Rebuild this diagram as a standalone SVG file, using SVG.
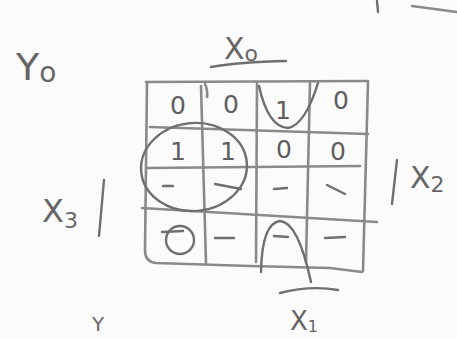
<svg xmlns="http://www.w3.org/2000/svg" width="457" height="339" viewBox="0 0 457 339">
<style>
.p{fill:none;stroke:#6f6f6f;stroke-width:2.4;stroke-linecap:round;stroke-linejoin:round}
.g{fill:none;stroke:#8a8a8a;stroke-width:2.6;stroke-linecap:round}
.t{font-family:"DejaVu Sans","Liberation Sans",sans-serif;fill:#666}
.c{font-family:"DejaVu Sans","Liberation Sans",sans-serif;fill:#5e5e5e;font-size:25px;text-anchor:middle}
</style>
<rect width="457" height="339" fill="#fbfbfb"/>
<!-- stray marks top right -->
<path class="p" d="M377 1 L378 12"/>
<path class="g" d="M412 6 L457 12"/>
<!-- grid -->
<g id="grid">
<path class="g" d="M146 82 L368 81"/>
<path class="g" d="M147 83 L145 250 Q145 262 156 263 L250 266 L330 268 L362 272"/>
<path class="g" d="M368 82 L363 271"/>
<path class="g" d="M150 127 L368 134"/>
<path class="g" d="M146 168 L360 166"/>
<path class="g" d="M142 208 L377 222"/>
<path class="g" d="M201 86 L206 263"/>
<path class="g" d="M257 83 L256 262"/>
<path class="g" d="M310 83 L306 262"/>
<path class="g" d="M205 84 Q208 90 207 97"/>
</g>
<!-- cell values -->
<g id="cells">
<text class="c" x="178" y="114">0</text>
<text class="c" x="231" y="113">0</text>
<text class="c" x="283" y="119">1</text>
<text class="c" x="341" y="109">0</text>
<text class="c" x="178" y="160">1</text>
<text class="c" x="228" y="160">1</text>
<text class="c" x="284" y="158">0</text>
<text class="c" x="338" y="160">0</text>
<path class="p" d="M163 186 L173 186 M215 184 L241 189 M274 189 L287 188 M327 185 L345 194"/>
<path class="p" d="M162 232 L183 231 M215 238 L234 238 M274 236 L288 237 M325 238 L345 237"/>
</g>
<!-- groupings -->
<g id="loops">
<path class="p" d="M259 86 Q268 127 288 128 Q305 125 318 83"/>
<ellipse class="p" cx="194" cy="167" rx="53" ry="44" transform="rotate(-5 194 167)"/>
<circle class="p" cx="180" cy="240" r="14"/>
<path class="p" d="M261 272 Q262 223 280 221 Q298 222 311 282"/>
</g>
<!-- labels -->
<g id="labels">
<text class="t" x="224" y="59" font-size="30">X<tspan font-size="22" dy="2">o</tspan></text>
<path class="p" d="M211 67 Q240 62 286 61"/>
<text class="t" x="16" y="80" font-size="38">Y<tspan font-size="28" dy="2">o</tspan></text>
<text class="t" x="42" y="222" font-size="32">X<tspan font-size="22" dy="6">3</tspan></text>
<path class="p" d="M104 180 L99 236"/>
<text class="t" x="410" y="188" font-size="30">X<tspan font-size="22" dy="4">2</tspan></text>
<path class="p" d="M397 160 L392 204"/>
<path class="p" d="M280 293 Q310 285 338 290"/>
<text class="t" x="290" y="330" font-size="26">X<tspan font-size="16" dy="2">1</tspan></text>
<text class="t" x="92" y="331" font-size="20">Y</text>
</g>
</svg>
